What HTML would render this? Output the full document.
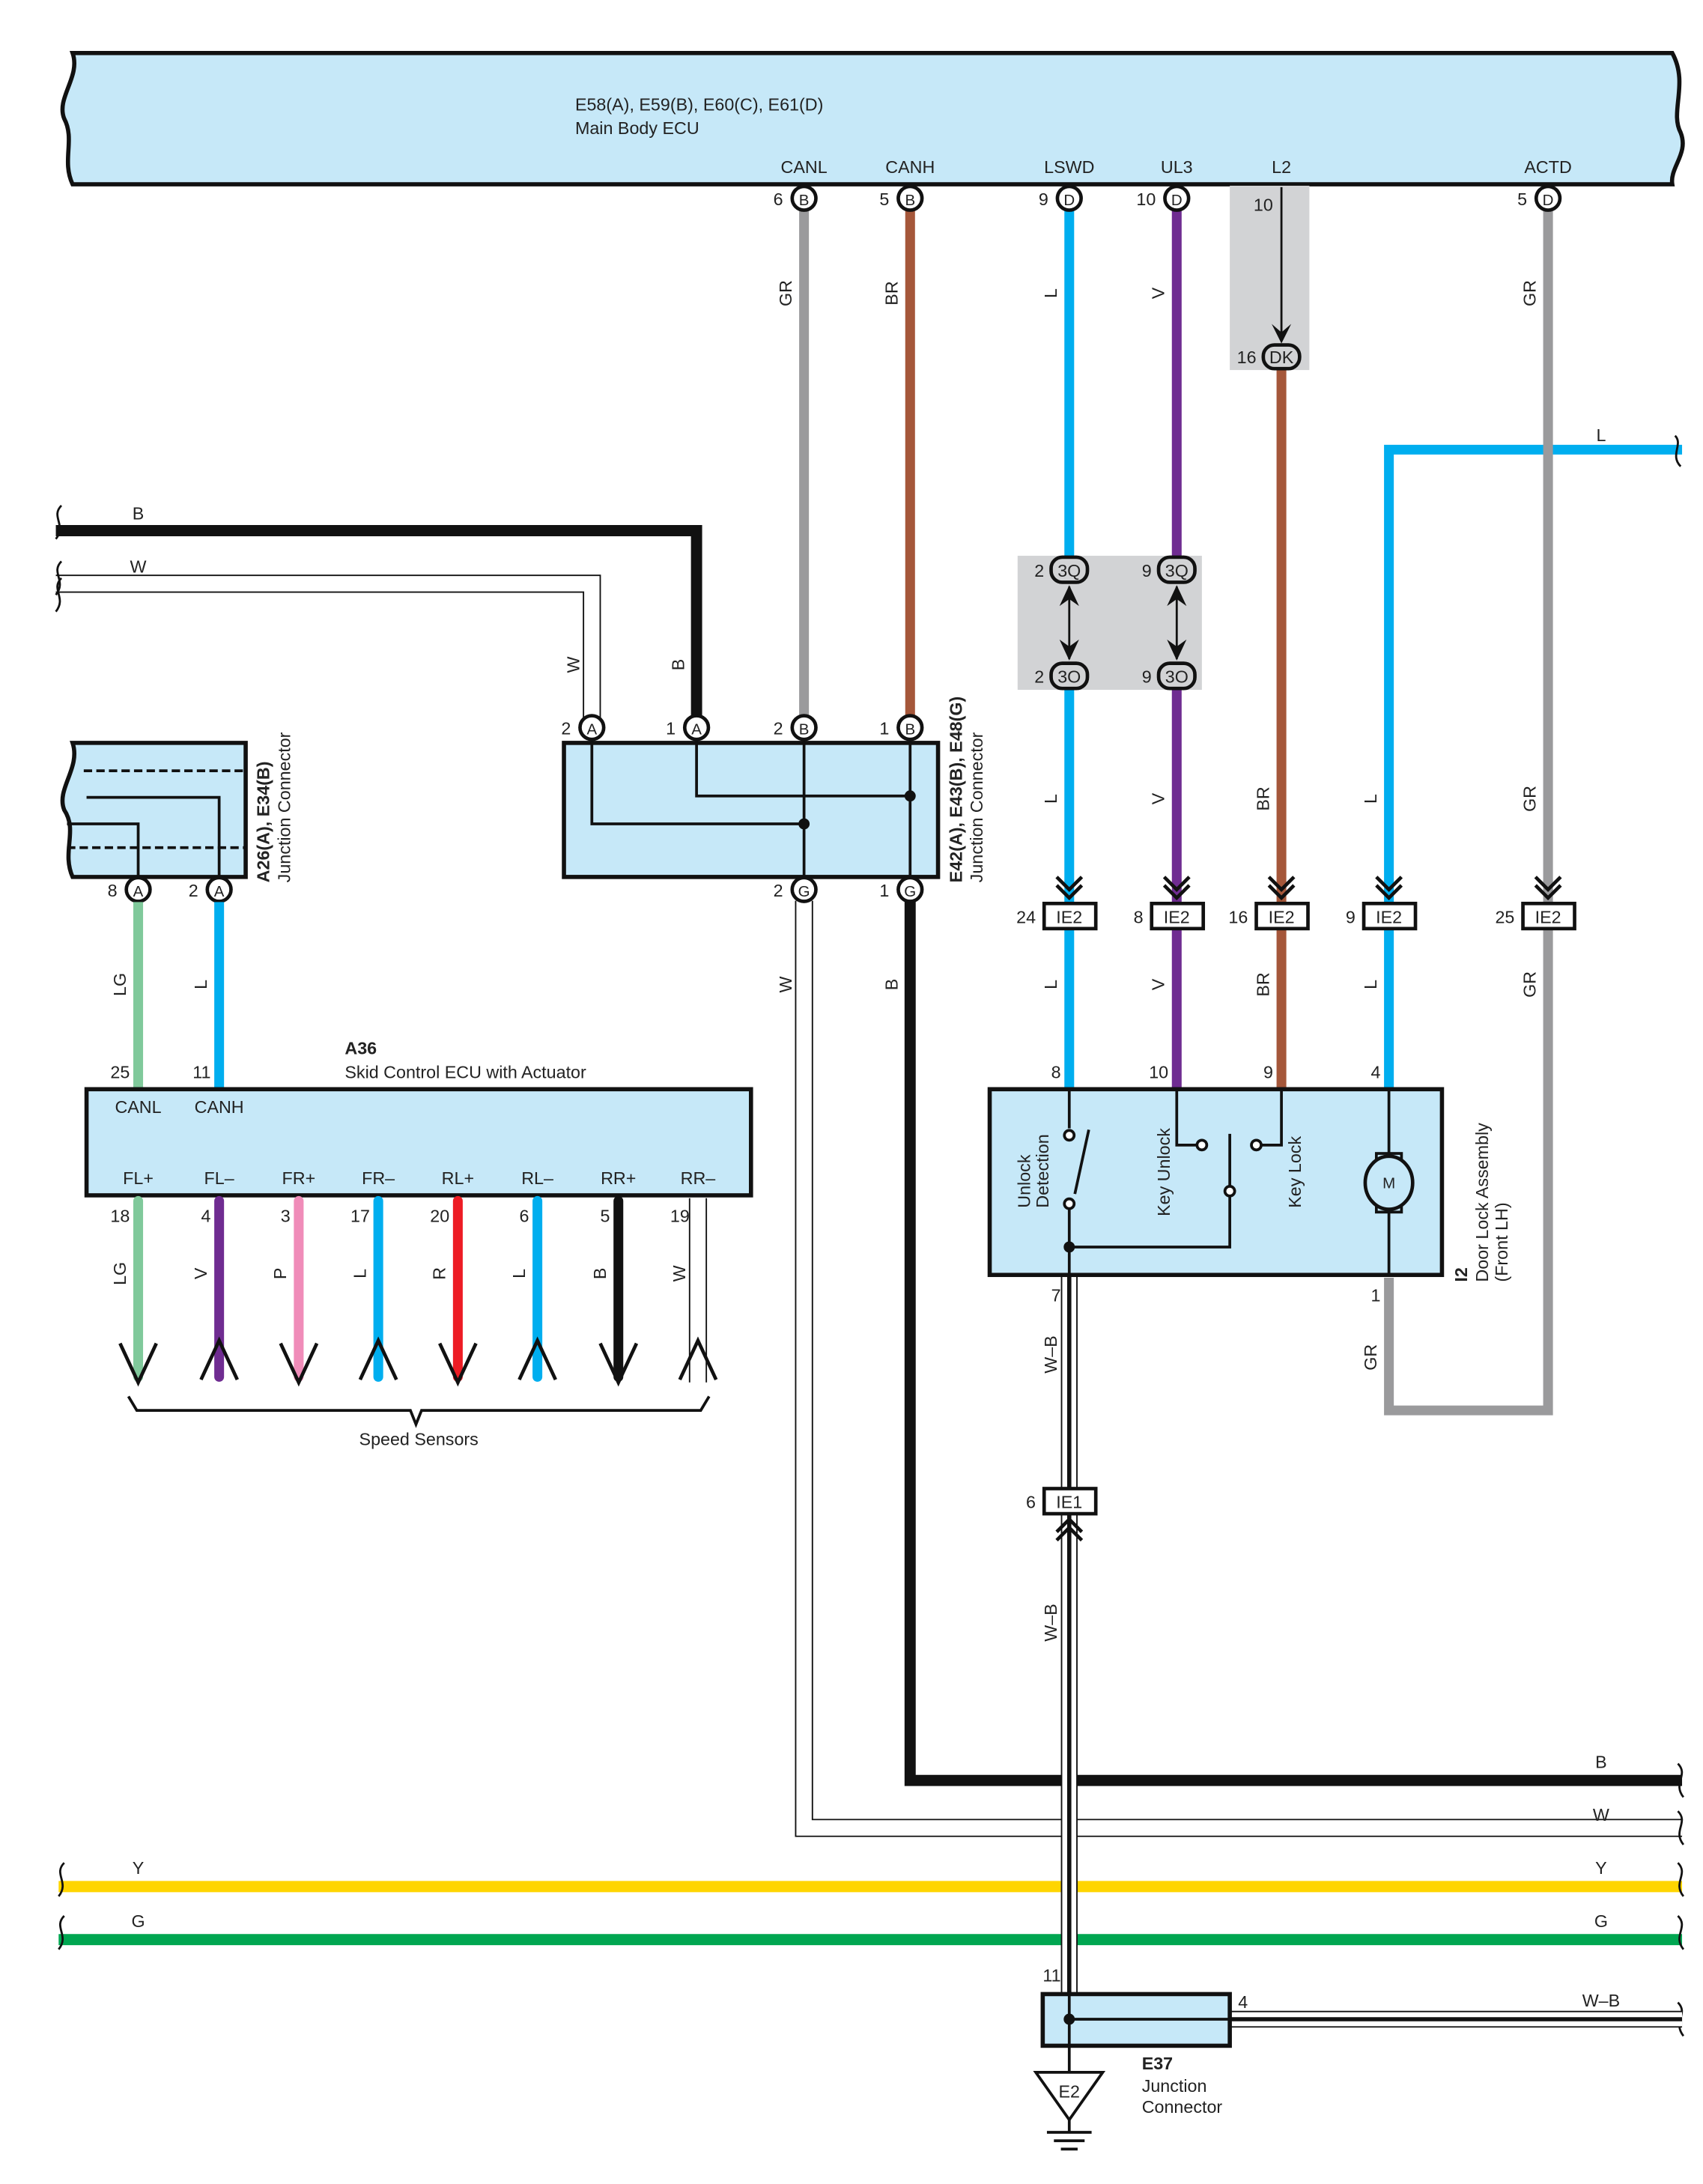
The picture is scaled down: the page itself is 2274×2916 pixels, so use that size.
<!DOCTYPE html>
<html><head><meta charset="utf-8"><style>
html,body{margin:0;padding:0;background:#fff}
svg{display:block}
text{font-family:"Liberation Sans",Arial,sans-serif;font-size:12.5px;fill:#222}
.b{font-weight:bold}
.c{text-anchor:middle}
.e{text-anchor:end}
</style></head><body>
<svg width="2274" height="2916" viewBox="0 0 1220 1564" preserveAspectRatio="none" xmlns="http://www.w3.org/2000/svg">
<defs>
<g id="con"><circle r="8.5" fill="#fff" stroke="#111" stroke-width="2.5"/></g>
</defs>
<!-- Main Body ECU -->
<path d="M52,38 L1198,38 C1210,60 1196,80 1204,95 C1210,110 1196,120 1198,132 L52,132 C44,115 54,100 46,85 C40,70 58,55 52,38 Z" fill="#c6e8f8" stroke="#111" stroke-width="3"/>
<text x="412" y="79" class="b" style="font-weight:normal">E58(A), E59(B), E60(C), E61(D)</text>
<text x="412" y="96">Main Body ECU</text>
<g class="c">
<text x="576" y="124" class="c">CANL</text><text x="652" y="124" class="c">CANH</text>
<text x="766" y="124" class="c">LSWD</text><text x="843" y="124" class="c">UL3</text>
<text x="918" y="124" class="c">L2</text><text x="1109" y="124" class="c">ACTD</text>
</g>
<!-- gray shading boxes -->
<rect x="881" y="133" width="57" height="132" fill="#d2d3d5"/>
<rect x="729" y="398" width="132" height="96" fill="#d2d3d5"/>

<!-- wires top -->
<line x1="576" y1="150" x2="576" y2="514" stroke="#9a9a9c" stroke-width="7"/>
<line x1="652" y1="150" x2="652" y2="514" stroke="#a5573a" stroke-width="7"/>
<line x1="766" y1="150" x2="766" y2="400" stroke="#00aeef" stroke-width="7"/>
<line x1="843" y1="150" x2="843" y2="400" stroke="#6f2c91" stroke-width="7"/>
<line x1="766" y1="492" x2="766" y2="780" stroke="#00aeef" stroke-width="7"/>
<line x1="843" y1="492" x2="843" y2="780" stroke="#6f2c91" stroke-width="7"/>
<line x1="918" y1="264" x2="918" y2="780" stroke="#a5573a" stroke-width="7"/>
<path d="M1205,322 L995,322 L995,780" fill="none" stroke="#00aeef" stroke-width="7"/>
<path d="M1109,150 L1109,1010 L995,1010 L995,915" fill="none" stroke="#9a9a9c" stroke-width="7"/>
<path d="M1200,312 c6,6 -4,14 4,22" fill="none" stroke="#111" stroke-width="1.5"/>
<text x="1147" y="316" class="c">L</text>
<!-- L2 internal -->
<text x="905" y="151" class="c">10</text>
<line x1="918" y1="134" x2="918" y2="240" stroke="#111" stroke-width="1.5"/>
<path d="M911,232 L918,246 L925,232 L918,238 Z" fill="#111"/>
<!-- connectors top -->
<g>
<use href="#con" x="576" y="142"/><text x="576" y="147" class="c" style="font-size:11px">B</text><text x="561" y="147" class="e">6</text>
<use href="#con" x="652" y="142"/><text x="652" y="147" class="c" style="font-size:11px">B</text><text x="637" y="147" class="e">5</text>
<use href="#con" x="766" y="142"/><text x="766" y="147" class="c" style="font-size:11px">D</text><text x="751" y="147" class="e">9</text>
<use href="#con" x="843" y="142"/><text x="843" y="147" class="c" style="font-size:11px">D</text><text x="828" y="147" class="e">10</text>
<use href="#con" x="1109" y="142"/><text x="1109" y="147" class="c" style="font-size:11px">D</text><text x="1094" y="147" class="e">5</text>
</g>
<rect x="905" y="247" width="26" height="17" rx="8" fill="#d2d3d5" stroke="#111" stroke-width="2.5"/><text x="918" y="260" class="c">DK</text><text x="900" y="260" class="e">16</text>
<!-- 3Q / 3O -->
<g>
<rect x="753" y="399" width="26" height="18" rx="8" fill="#d2d3d5" stroke="#111" stroke-width="2.5"/><text x="766" y="413" class="c">3Q</text><text x="748" y="413" class="e">2</text>
<rect x="830" y="399" width="26" height="18" rx="8" fill="#d2d3d5" stroke="#111" stroke-width="2.5"/><text x="843" y="413" class="c">3Q</text><text x="825" y="413" class="e">9</text>
<rect x="753" y="475" width="26" height="18" rx="8" fill="#d2d3d5" stroke="#111" stroke-width="2.5"/><text x="766" y="489" class="c">3O</text><text x="748" y="489" class="e">2</text>
<rect x="830" y="475" width="26" height="18" rx="8" fill="#d2d3d5" stroke="#111" stroke-width="2.5"/><text x="843" y="489" class="c">3O</text><text x="825" y="489" class="e">9</text>
</g>
<g stroke="#111" stroke-width="1.5">
<line x1="766" y1="420" x2="766" y2="472"/><line x1="843" y1="420" x2="843" y2="472"/>
</g>
<g fill="#111">
<path d="M759,434 L766,419 L773,434 L766,429Z"/><path d="M759,458 L766,473 L773,458 L766,463Z"/>
<path d="M836,434 L843,419 L850,434 L843,429Z"/><path d="M836,458 L843,473 L850,458 L843,463Z"/>
</g>
<!-- wire labels rotated -->
<g>
<text transform="translate(567,210) rotate(-90)" class="c">GR</text>
<text transform="translate(643,210) rotate(-90)" class="c">BR</text>
<text transform="translate(757,210) rotate(-90)" class="c">L</text>
<text transform="translate(834,210) rotate(-90)" class="c">V</text>
<text transform="translate(1100,210) rotate(-90)" class="c">GR</text>
<text transform="translate(757,572) rotate(-90)" class="c">L</text>
<text transform="translate(834,572) rotate(-90)" class="c">V</text>
<text transform="translate(909,572) rotate(-90)" class="c">BR</text>
<text transform="translate(986,572) rotate(-90)" class="c">L</text>
<text transform="translate(1100,572) rotate(-90)" class="c">GR</text>
<text transform="translate(757,705) rotate(-90)" class="c">L</text>
<text transform="translate(834,705) rotate(-90)" class="c">V</text>
<text transform="translate(909,705) rotate(-90)" class="c">BR</text>
<text transform="translate(986,705) rotate(-90)" class="c">L</text>
<text transform="translate(1100,705) rotate(-90)" class="c">GR</text>
</g>
<!-- IE2 connectors -->
<g>
<g stroke="#111" stroke-width="2.5" fill="none">
<path d="M757,628 L766,637 L775,628 M757,634 L766,643 L775,634"/>
<path d="M834,628 L843,637 L852,628 M834,634 L843,643 L852,634"/>
<path d="M909,628 L918,637 L927,628 M909,634 L918,643 L927,634"/>
<path d="M986,628 L995,637 L1004,628 M986,634 L995,643 L1004,634"/>
<path d="M1100,628 L1109,637 L1118,628 M1100,634 L1109,643 L1118,634"/>
</g>
<rect x="748" y="647" width="37" height="18" fill="#fff" stroke="#111" stroke-width="2.5"/><text x="766" y="661" class="c">IE2</text><text x="742" y="661" class="e">24</text>
<rect x="825" y="647" width="37" height="18" fill="#fff" stroke="#111" stroke-width="2.5"/><text x="843" y="661" class="c">IE2</text><text x="819" y="661" class="e">8</text>
<rect x="900" y="647" width="37" height="18" fill="#fff" stroke="#111" stroke-width="2.5"/><text x="918" y="661" class="c">IE2</text><text x="894" y="661" class="e">16</text>
<rect x="977" y="647" width="37" height="18" fill="#fff" stroke="#111" stroke-width="2.5"/><text x="995" y="661" class="c">IE2</text><text x="971" y="661" class="e">9</text>
<rect x="1091" y="647" width="37" height="18" fill="#fff" stroke="#111" stroke-width="2.5"/><text x="1109" y="661" class="c">IE2</text><text x="1085" y="661" class="e">25</text>
</g>

<!-- B and W wires left -->
<path d="M40,380 L499,380 L499,514" fill="none" stroke="#111" stroke-width="8"/>
<path d="M40,418 L424,418 L424,514" fill="none" stroke="#111" stroke-width="13"/>
<path d="M40,418 L424,418 L424,514" fill="none" stroke="#fff" stroke-width="11"/>
<path d="M44,362 c-8,8 4,14 -4,24 M44,402 c-8,8 4,14 -4,24 M44,414 c-8,8 4,14 -4,24" fill="none" stroke="#111" stroke-width="1.5"/>
<text x="99" y="372" class="c">B</text><text x="99" y="410" class="c">W</text>
<text transform="translate(415,476) rotate(-90)" class="c">W</text>
<text transform="translate(490,476) rotate(-90)" class="c">B</text>

<!-- E42 box -->
<rect x="404" y="532" width="268" height="96" fill="#c6e8f8" stroke="#111" stroke-width="3"/>
<g stroke="#111" stroke-width="2" fill="none">
<path d="M424,530 L424,590 L576,590"/>
<path d="M499,530 L499,570 L652,570"/>
<line x1="576" y1="530" x2="576" y2="630"/>
<line x1="652" y1="530" x2="652" y2="630"/>
</g>
<circle cx="576" cy="590" r="4" fill="#111"/><circle cx="652" cy="570" r="4" fill="#111"/>
<g>
<use href="#con" x="424" y="521"/><text x="424" y="526" class="c" style="font-size:11px">A</text><text x="409" y="526" class="e">2</text>
<use href="#con" x="499" y="521"/><text x="499" y="526" class="c" style="font-size:11px">A</text><text x="484" y="526" class="e">1</text>
<use href="#con" x="576" y="521"/><text x="576" y="526" class="c" style="font-size:11px">B</text><text x="561" y="526" class="e">2</text>
<use href="#con" x="652" y="521"/><text x="652" y="526" class="c" style="font-size:11px">B</text><text x="637" y="526" class="e">1</text>
</g>
<text transform="translate(689,632) rotate(-90)" class="b">E42(A), E43(B), E48(G)</text>
<text transform="translate(704,632) rotate(-90)">Junction Connector</text>

<!-- lower W & B from E42 -->
<path d="M576,645 L576,1309 L1205,1309" fill="none" stroke="#111" stroke-width="13"/>
<path d="M576,645 L576,1309 L1205,1309" fill="none" stroke="#fff" stroke-width="11"/>
<path d="M652,645 L652,1275 L1205,1275" fill="none" stroke="#111" stroke-width="8"/>
<g>
<use href="#con" x="576" y="637"/><text x="576" y="642" class="c" style="font-size:11px">G</text><text x="561" y="642" class="e">2</text>
<use href="#con" x="652" y="637"/><text x="652" y="642" class="c" style="font-size:11px">G</text><text x="637" y="642" class="e">1</text>
</g>
<text transform="translate(567,705) rotate(-90)" class="c">W</text>
<text transform="translate(643,705) rotate(-90)" class="c">B</text>
<text x="1147" y="1266" class="c">B</text><text x="1147" y="1304" class="c">W</text>
<!-- Y and G -->
<line x1="42" y1="1351" x2="1205" y2="1351" stroke="#ffd500" stroke-width="8"/>
<line x1="42" y1="1389" x2="1205" y2="1389" stroke="#00a651" stroke-width="8"/>
<text x="99" y="1342" class="c">Y</text><text x="99" y="1380" class="c">G</text>
<text x="1147" y="1342" class="c">Y</text><text x="1147" y="1380" class="c">G</text>
<path d="M46,1334 c-8,8 4,14 -4,24 M46,1372 c-8,8 4,14 -4,24 M1202,1263 c8,8 -4,14 4,24 M1202,1297 c8,8 -4,14 4,24 M1202,1334 c8,8 -4,14 4,24 M1202,1372 c8,8 -4,14 4,24 M1202,1434 c8,8 -4,14 4,24" fill="none" stroke="#111" stroke-width="1.5"/>

<!-- W-B vertical -->
<line x1="766" y1="913" x2="766" y2="1430" stroke="#111" stroke-width="12"/>
<line x1="766" y1="913" x2="766" y2="1430" stroke="#fff" stroke-width="10"/>
<line x1="766" y1="913" x2="766" y2="1430" stroke="#111" stroke-width="3"/>
<text x="760" y="932" class="e">7</text>
<text transform="translate(757,970) rotate(-90)" class="c">W–B</text>
<text transform="translate(757,1162) rotate(-90)" class="c">W–B</text>
<path d="M757,1097 L766,1088 L775,1097 M757,1103 L766,1094 L775,1103" fill="none" stroke="#111" stroke-width="2.5"/>
<rect x="748" y="1066" width="37" height="18" fill="#fff" stroke="#111" stroke-width="2.5"/><text x="766" y="1080" class="c">IE1</text><text x="742" y="1080" class="e">6</text>
<!-- E37 -->
<line x1="766" y1="1446" x2="1205" y2="1446" stroke="#111" stroke-width="12"/>
<line x1="766" y1="1446" x2="1205" y2="1446" stroke="#fff" stroke-width="10"/>
<line x1="766" y1="1446" x2="1205" y2="1446" stroke="#111" stroke-width="3"/>
<text x="1147" y="1437" class="c">W–B</text>
<rect x="747" y="1428" width="134" height="37" fill="#c6e8f8" stroke="#111" stroke-width="3"/>
<line x1="766" y1="1428" x2="766" y2="1484" stroke="#111" stroke-width="2"/>
<line x1="766" y1="1446" x2="881" y2="1446" stroke="#111" stroke-width="2"/>
<circle cx="766" cy="1446" r="4" fill="#111"/>
<text x="760" y="1419" class="e">11</text><text x="887" y="1438">4</text>
<path d="M742,1484 L790,1484 L766,1518 Z" fill="#fff" stroke="#111" stroke-width="2"/>
<text x="766" y="1502" class="c">E2</text>
<g stroke="#111" stroke-width="2"><line x1="766" y1="1518" x2="766" y2="1527"/><line x1="750" y1="1527" x2="782" y2="1527"/><line x1="755" y1="1533" x2="777" y2="1533"/><line x1="760" y1="1539" x2="772" y2="1539"/></g>
<text x="818" y="1482" class="b">E37</text><text x="818" y="1498">Junction</text><text x="818" y="1513">Connector</text>

<!-- Door lock assembly -->
<rect x="709" y="780" width="324" height="133" fill="#c6e8f8" stroke="#111" stroke-width="3"/>
<g stroke="#111" stroke-width="2" fill="none">
<path d="M766,780 L766,808"/><circle cx="766" cy="813" r="3.5" fill="#fff"/>
<path d="M770,855 L780,809"/>
<circle cx="766" cy="862" r="3.5" fill="#fff"/>
<path d="M766,866 L766,913"/>
<path d="M766,893 L881,893 L881,857"/><circle cx="881" cy="853" r="3.5" fill="#fff"/><path d="M881,849 L881,812"/>
<path d="M843,780 L843,820 L857,820"/><circle cx="861" cy="820" r="3.5" fill="#fff"/>
<path d="M918,780 L918,820 L904,820"/><circle cx="900" cy="820" r="3.5" fill="#fff"/>
<path d="M995,780 L995,826 M995,868 L995,913"/>
<rect x="986" y="826" width="18" height="7"/><rect x="986" y="861" width="18" height="7"/>
<ellipse cx="995" cy="847" rx="17" ry="19" fill="#c6e8f8" stroke-width="2.5"/>
</g>
<circle cx="766" cy="893" r="4" fill="#111"/>
<text x="995" y="851" class="c" style="font-size:11px">M</text>
<text transform="translate(738,865) rotate(-90)">Unlock</text>
<text transform="translate(751,865) rotate(-90)">Detection</text>
<text transform="translate(838,871) rotate(-90)">Key Unlock</text>
<text transform="translate(932,865) rotate(-90)">Key Lock</text>
<text x="760" y="772" class="e">8</text><text x="837" y="772" class="e">10</text><text x="912" y="772" class="e">9</text><text x="989" y="772" class="e">4</text>
<text x="989" y="932" class="e">1</text>
<text transform="translate(986,972) rotate(-90)" class="c">GR</text>
<text transform="translate(1051,918) rotate(-90)" class="b">I2</text>
<text transform="translate(1066,918) rotate(-90)">Door Lock Assembly</text>
<text transform="translate(1080,918) rotate(-90)">(Front LH)</text>

<!-- A26 -->
<path d="M52,532 L176,532 L176,628 L52,628 C44,610 56,595 46,580 C40,565 58,550 52,532 Z" fill="#c6e8f8" stroke="#111" stroke-width="3"/>
<g stroke="#111" stroke-width="2" fill="none">
<line x1="60" y1="552" x2="176" y2="552" stroke-dasharray="6,3"/>
<line x1="48" y1="607" x2="176" y2="607" stroke-dasharray="6,3"/>
<path d="M62,571 L157,571 L157,630"/>
<path d="M48,590 L99,590 L99,630"/>
</g>
<use href="#con" x="99" y="637"/><text x="99" y="642" class="c" style="font-size:11px">A</text><text x="84" y="642" class="e">8</text>
<use href="#con" x="157" y="637"/><text x="157" y="642" class="c" style="font-size:11px">A</text><text x="142" y="642" class="e">2</text>
<text transform="translate(193,632) rotate(-90)" class="b">A26(A), E34(B)</text>
<text transform="translate(208,632) rotate(-90)">Junction Connector</text>
<line x1="99" y1="646" x2="99" y2="780" stroke="#80c99b" stroke-width="7"/>
<line x1="157" y1="646" x2="157" y2="780" stroke="#00aeef" stroke-width="7"/>
<text transform="translate(90,705) rotate(-90)" class="c">LG</text>
<text transform="translate(148,705) rotate(-90)" class="c">L</text>
<text x="93" y="772" class="e">25</text><text x="151" y="772" class="e">11</text>
<text x="247" y="755" class="b">A36</text>
<text x="247" y="772">Skid Control ECU with Actuator</text>
<!-- A36 -->
<rect x="62" y="780" width="476" height="76" fill="#c6e8f8" stroke="#111" stroke-width="3"/>
<text x="99" y="797" class="c">CANL</text><text x="157" y="797" class="c">CANH</text>
<g>
<text x="99" y="848" class="c">FL+</text><text x="157" y="848" class="c">FL–</text>
<text x="214" y="848" class="c">FR+</text><text x="271" y="848" class="c">FR–</text>
<text x="328" y="848" class="c">RL+</text><text x="385" y="848" class="c">RL–</text>
<text x="443" y="848" class="c">RR+</text><text x="500" y="848" class="c">RR–</text>
</g>
<g stroke-width="7" stroke-linecap="round">
<line x1="99" y1="860" x2="99" y2="986" stroke="#80c99b"/>
<line x1="157" y1="860" x2="157" y2="986" stroke="#6f2c91"/>
<line x1="214" y1="860" x2="214" y2="986" stroke="#f08cb9"/>
<line x1="271" y1="860" x2="271" y2="986" stroke="#00aeef"/>
<line x1="328" y1="860" x2="328" y2="986" stroke="#ed1c24"/>
<line x1="385" y1="860" x2="385" y2="986" stroke="#00aeef"/>
<line x1="443" y1="860" x2="443" y2="986" stroke="#111"/>
</g>
<g stroke="#111" stroke-width="1"><line x1="494" y1="858" x2="494" y2="990"/><line x1="506" y1="858" x2="506" y2="990"/></g>
<g stroke="#111" stroke-width="2.5" fill="none">
<path d="M86,962 L99,990 L112,962"/><path d="M144,988 L157,960 L170,988"/>
<path d="M201,962 L214,990 L227,962"/><path d="M258,988 L271,960 L284,988"/>
<path d="M315,962 L328,990 L341,962"/><path d="M372,988 L385,960 L398,988"/>
<path d="M430,962 L443,990 L456,962"/><path d="M487,988 L500,960 L513,988"/>
</g>
<g>
<text x="93" y="875" class="e">18</text><text x="151" y="875" class="e">4</text><text x="208" y="875" class="e">3</text><text x="265" y="875" class="e">17</text>
<text x="322" y="875" class="e">20</text><text x="379" y="875" class="e">6</text><text x="437" y="875" class="e">5</text><text x="494" y="875" class="e">19</text>
</g>
<g>
<text transform="translate(90,912) rotate(-90)" class="c">LG</text>
<text transform="translate(148,912) rotate(-90)" class="c">V</text>
<text transform="translate(205,912) rotate(-90)" class="c">P</text>
<text transform="translate(262,912) rotate(-90)" class="c">L</text>
<text transform="translate(319,912) rotate(-90)" class="c">R</text>
<text transform="translate(376,912) rotate(-90)" class="c">L</text>
<text transform="translate(434,912) rotate(-90)" class="c">B</text>
<text transform="translate(491,912) rotate(-90)" class="c">W</text>
</g>
<path d="M92,1000 L98,1010 L294,1010 L298,1020 L302,1010 L502,1010 L508,1000" fill="none" stroke="#111" stroke-width="2"/>
<text x="300" y="1035" class="c">Speed Sensors</text>
</svg>
</body></html>
